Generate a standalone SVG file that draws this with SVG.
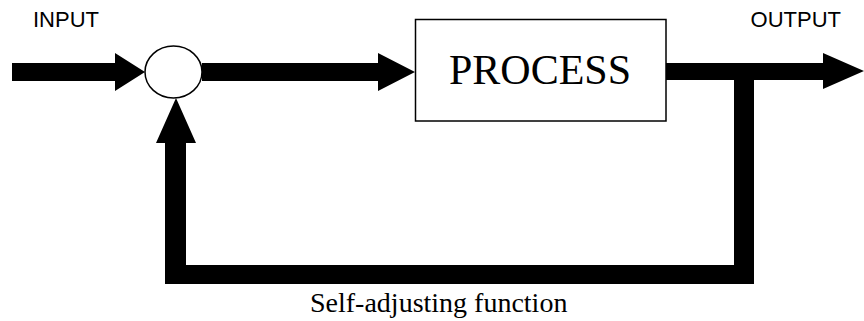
<svg xmlns="http://www.w3.org/2000/svg" width="864" height="321" viewBox="0 0 864 321">
  <style>
    .sans { font-family: "Liberation Sans", Arial, sans-serif; font-size: 22px; fill: #000; }
    .serif { font-family: "Liberation Serif", "Times New Roman", serif; fill: #000; }
    .node { fill: #fff; stroke: #000; stroke-width: 1.5; }
    .conn { fill: #000; stroke: none; }
  </style>
  <rect x="0" y="0" width="864" height="321" fill="#fff"/>
  <g id="connectors">
    <!-- input arrow -->
    <path class="conn" d="M12,63 H115 V53 L145,72 L115,91 V81 H12 Z"/>
    <!-- summing junction to process -->
    <path class="conn" d="M202,63 H378 V53 L415,72 L378,91 V81 H202 Z"/>
    <!-- process to output -->
    <path class="conn" d="M666,63 H823 V53 L864,71 L823,89 V80 H666 Z"/>
    <!-- feedback loop -->
    <path class="conn" d="M734,80 H754 V284 H165 V143 H156 L176,98 L196,143 H186 V265 H734 Z"/>
  </g>
  <g id="input-label">
    <text class="sans" x="33" y="27">INPUT</text>
  </g>
  <g id="output-label">
    <text class="sans" x="841" y="27" text-anchor="end">OUTPUT</text>
  </g>
  <g id="summing-junction">
    <ellipse class="node" cx="173.5" cy="72" rx="28.5" ry="26"/>
  </g>
  <g id="process">
    <rect class="node" x="415.5" y="19.5" width="250.5" height="101.5"/>
    <text class="serif" x="540" y="84" font-size="42" text-anchor="middle">PROCESS</text>
  </g>
  <g id="feedback-label">
    <text class="serif" x="310" y="312" font-size="28">Self-adjusting function</text>
  </g>
</svg>
